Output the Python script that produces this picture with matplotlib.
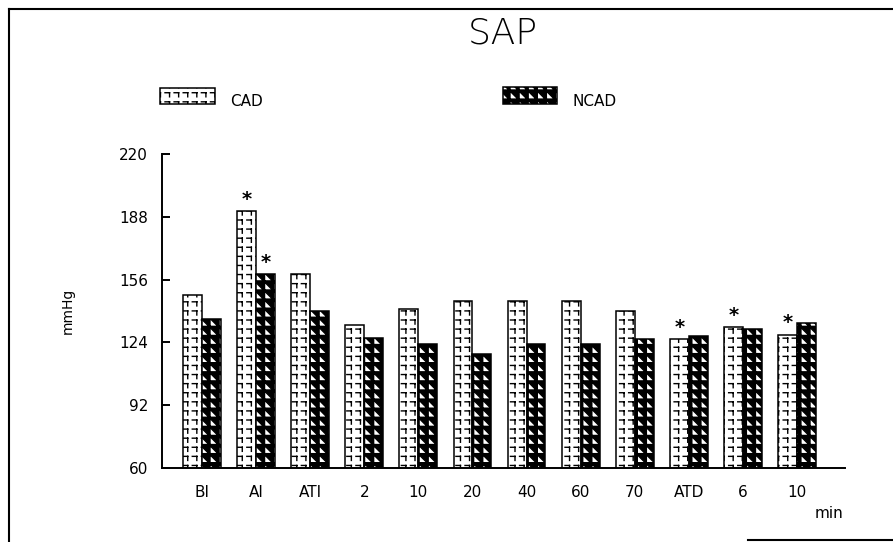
import warnings
import numpy as np
import matplotlib
matplotlib.use("Agg")
import matplotlib.pyplot as plt
import matplotlib.hatch as mhatch
from matplotlib.path import Path
from matplotlib.patches import Rectangle
from matplotlib.lines import Line2D

warnings.filterwarnings("ignore", category=matplotlib.MatplotlibDeprecationWarning)

# ---- data -------------------------------------------------------------
categories = ["BI", "AI", "ATI", "2", "10", "20", "40", "60", "70", "ATD", "6", "10"]
cad = [148, 191, 159, 133, 141, 145, 145, 145, 140, 125.5, 132, 128]
ncad = [136, 159, 140, 126, 123, 118, 123, 123, 125.5, 127.5, 131, 134]
cad_sig = [False, True, False, False, False, False, False, False, False, True, True, True]
ncad_sig = [False, True, False, False, False, False, False, False, False, False, False, False]
y_ticks = [60, 92, 124, 156, 188, 220]


# ---- plotter-style fill patterns -------------------------------------
class CornerMarkHatch(mhatch.HatchPatternBase):
    """Grid of small corner marks; selected by 'c' in the hatch string."""
    cells = 11

    def __init__(self, hatch, density):
        self.n = self.cells if "c" in hatch else 0
        self.num_vertices = self.n * self.n * 4

    def set_vertices_and_codes(self, vertices, codes):
        n = self.n
        s = 1.0 / n
        gx, gy = np.meshgrid(np.arange(n) * s, np.arange(n) * s)
        gx, gy = gx.ravel(), gy.ravel()
        x1, x2 = gx + 0.15 * s, gx + 0.65 * s
        ytop, ybot = gy + 0.8 * s, gy + 0.35 * s
        v = np.empty((n * n, 4, 2))
        v[:, 0, 0], v[:, 0, 1] = x1, ytop
        v[:, 1, 0], v[:, 1, 1] = x2, ytop
        v[:, 2, 0], v[:, 2, 1] = x2, ytop
        v[:, 3, 0], v[:, 3, 1] = x2, ybot
        vertices[:] = v.reshape(-1, 2)
        codes[0::2] = Path.MOVETO
        codes[1::2] = Path.LINETO


class SawtoothHatch(mhatch.HatchPatternBase):
    """Dark cells each with a light triangle; selected by 'k'."""
    cells = 11
    per_cell = 16

    def __init__(self, hatch, density):
        self.n = self.cells if "k" in hatch else 0
        self.num_vertices = self.n * self.n * self.per_cell

    def set_vertices_and_codes(self, vertices, codes):
        n = self.n
        s = 1.0 / n
        a, r, b, t = 0.10, 0.98, 0.10, 0.98
        verts, cds = [], []
        M, L, C = Path.MOVETO, Path.LINETO, Path.CLOSEPOLY
        for j in range(n):
            for i in range(n):
                x0, y0 = i * s, j * s
                X = lambda u: x0 + u * s
                Y = lambda u: y0 + u * s
                # left strip
                verts += [(X(0), Y(0)), (X(a), Y(0)), (X(a), Y(1)), (X(0), Y(1)), (X(0), Y(0))]
                cds += [M, L, L, L, C]
                # bottom strip
                verts += [(X(a), Y(0)), (X(1), Y(0)), (X(1), Y(b)), (X(a), Y(b)), (X(a), Y(0))]
                cds += [M, L, L, L, C]
                # upper-right region above the diagonal
                verts += [(X(a), Y(t)), (X(a), Y(1)), (X(1), Y(1)), (X(1), Y(b)), (X(r), Y(b)), (X(a), Y(t))]
                cds += [M, L, L, L, L, C]
        vertices[:] = np.array(verts)
        codes[:] = np.array(cds)


mhatch._hatch_types.append(CornerMarkHatch)
mhatch._hatch_types.append(SawtoothHatch)

plt.rcParams["font.family"] = ["DejaVu Sans"]
plt.rcParams["hatch.linewidth"] = 1.0

W, H = 893, 542
fig = plt.figure(figsize=(W / 100, H / 100), dpi=100)
ax = fig.add_axes([162 / W, 74 / H, 683 / W, 314 / H])

x = np.arange(len(categories))
w = 0.35
ax.bar(x - w / 2, cad, w, facecolor="white", edgecolor="black", hatch="c", linewidth=1.1)
ax.bar(x + w / 2, ncad, w, facecolor="white", edgecolor="black", hatch="k", linewidth=1.1)

for xs, vals, sig in ((x - w / 2, cad, cad_sig), (x + w / 2, ncad, ncad_sig)):
    for xi, v, s in zip(xs, vals, sig):
        if s:
            ax.annotate("*", (xi, v), xytext=(0, 1.5), textcoords="offset points",
                        ha="center", va="bottom", fontsize=14, fontweight="bold")

ax.set_xlim(-40 / 54.09, (845 - 202) / 54.09)
ax.set_ylim(60, 220)
ax.set_yticks(y_ticks)
ax.set_xticks(x, categories)
ax.tick_params(axis="y", direction="in", length=6, width=1.4, pad=10, labelsize=11)
ax.tick_params(axis="x", length=0, pad=12, labelsize=11)
for side in ("top", "right"):
    ax.spines[side].set_visible(False)
for side in ("left", "bottom"):
    ax.spines[side].set_linewidth(1.4)

# title, axis captions
fig.text(503 / W, 1 - 43 / H, "SAP", ha="center", va="baseline", fontsize=26, fontweight="light")
fig.text(68 / W, 1 - 311 / H, "mmHg", rotation=90, ha="center", va="center", fontsize=10)
fig.text(829 / W, 1 - 518 / H, "min", ha="center", va="baseline", fontsize=11)

# legend swatches
fig.add_artist(Rectangle((160 / W, 1 - 104 / H), 55 / W, 16 / H, transform=fig.transFigure,
                         facecolor="white", edgecolor="black", hatch="c", linewidth=1.1))
fig.text(230 / W, 1 - 106 / H, "CAD", ha="left", va="baseline", fontsize=11)
fig.add_artist(Rectangle((503 / W, 1 - 104 / H), 54 / W, 17 / H, transform=fig.transFigure,
                         facecolor="white", edgecolor="black", hatch="k", linewidth=1.1))
fig.text(573 / W, 1 - 106 / H, "NCAD", ha="left", va="baseline", fontsize=11)

# page frame
for xs_, ys_ in (([9, 9], [9, 542]), ([9, 893], [9, 9]), ([748, 893], [540, 540])):
    fig.add_artist(Line2D([v / W for v in xs_], [1 - v / H for v in ys_],
                          transform=fig.transFigure, color="black", linewidth=1.5))

fig.savefig("out.png", dpi=100)
